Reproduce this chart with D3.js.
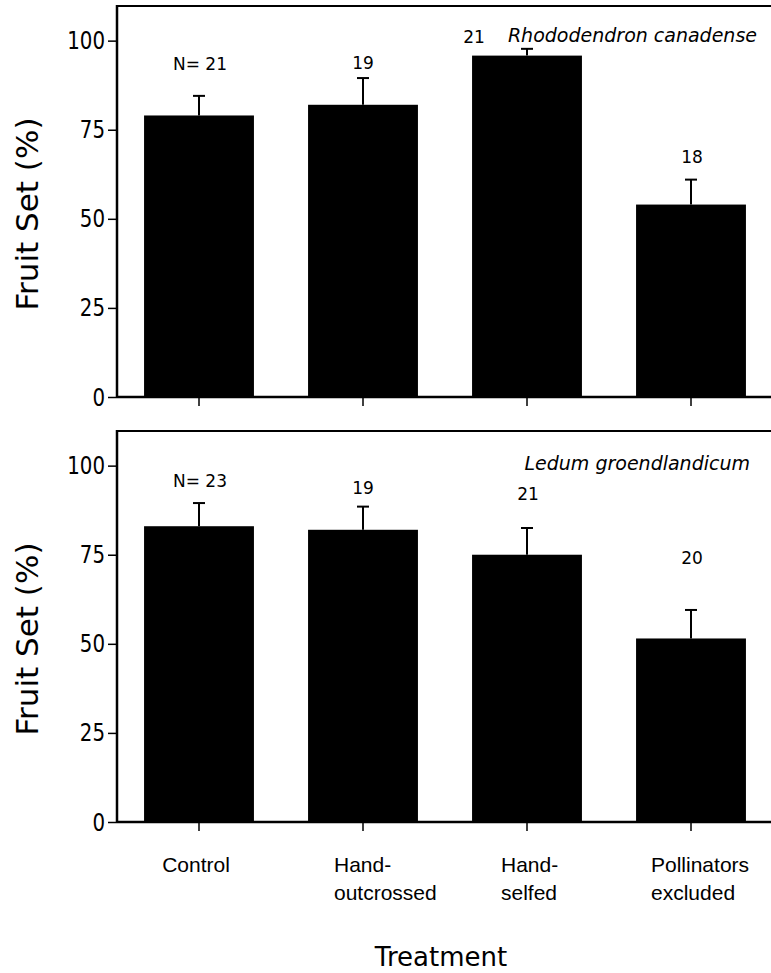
<!DOCTYPE html>
<html>
<head>
<meta charset="utf-8">
<script src="https://cdn.jsdelivr.net/npm/d3@7"></script>
<style>
  body { margin: 0; background: #fff; }
  svg { display: block; }
</style>
</head>
<body>
<div id="chart"></div>
<script>
// Treatments on the x axis
const treatments = ["Control", "Hand-outcrossed", "Hand-selfed", "Pollinators excluded"];
const treatmentLines = [["Control"], ["Hand-", "outcrossed"], ["Hand-", "selfed"], ["Pollinators", "excluded"]];
const yTicks = [0, 25, 50, 75, 100];

// Rhododendron canadense
const rhodoMean = [79, 82, 95.8, 54];
const rhodoUpper = [84.5, 89.5, 97.7, 61];
const rhodoN = ["N= 21", "19", "21", "18"];

// Ledum groendlandicum
const ledumMean = [83, 82, 75, 51.5];
const ledumUpper = [89.5, 88.5, 82.5, 59.5];
const ledumN = ["N= 23", "19", "21", "20"];

const W = 771, H = 973;
const svg = d3.select("#chart").append("svg")
  .attr("width", W).attr("height", H);

const x = d3.scaleBand()
  .domain(treatments)
  .range([117, 773])
  .paddingInner(0.33)
  .paddingOuter(0.165);

const tickFont = "'DejaVu Sans Condensed', 'DejaVu Sans', sans-serif";
const labelFont = "'DejaVu Sans', Verdana, sans-serif";

// panel layouts (pixel positions of frame + where the N labels sit)
const panels = [
  {
    species: "Rhododendron canadense", mean: rhodoMean, upper: rhodoUpper, n: rhodoN,
    top: 5, zero: 397, speciesX: 757, speciesY: 42,
    nPos: [[200, 70], [363, 69], [474, 43], [692, 163]]
  },
  {
    species: "Ledum groendlandicum", mean: ledumMean, upper: ledumUpper, n: ledumN,
    top: 430, zero: 822, speciesX: 750, speciesY: 470,
    nPos: [[200, 487], [363, 494], [528, 500], [692, 564]]
  }
];

panels.forEach(p => {
  const y = d3.scaleLinear().domain([0, 110]).range([p.zero, p.top]);
  const g = svg.append("g");

  // top frame line
  g.append("line")
    .attr("x1", 117).attr("x2", W)
    .attr("y1", p.top + 1).attr("y2", p.top + 1)
    .attr("stroke", "#000").attr("stroke-width", 2);

  // bars
  g.selectAll(".bar")
    .data(treatments)
    .enter().append("rect")
    .attr("x", d => x(d))
    .attr("width", x.bandwidth())
    .attr("y", (d, i) => y(p.mean[i]))
    .attr("height", (d, i) => y(0) - y(p.mean[i]))
    .attr("fill", "#000");

  // upper error bars
  const eb = g.selectAll(".err")
    .data(treatments)
    .enter().append("g")
    .attr("stroke", "#000").attr("stroke-width", 2);
  eb.append("line")
    .attr("x1", d => x(d) + x.bandwidth() / 2)
    .attr("x2", d => x(d) + x.bandwidth() / 2)
    .attr("y1", (d, i) => y(p.mean[i]))
    .attr("y2", (d, i) => y(p.upper[i]));
  eb.append("line")
    .attr("x1", d => x(d) + x.bandwidth() / 2 - 6)
    .attr("x2", d => x(d) + x.bandwidth() / 2 + 6)
    .attr("y1", (d, i) => y(p.upper[i]))
    .attr("y2", (d, i) => y(p.upper[i]));

  // y axis
  const yAxis = g.append("g")
    .attr("transform", "translate(117,0)")
    .call(d3.axisLeft(y).tickValues(yTicks).tickSize(9).tickPadding(3));
  yAxis.select(".domain").attr("d", `M0,${p.top}V${p.zero}`).attr("stroke-width", 2.5);
  yAxis.selectAll(".tick line").attr("stroke-width", 1.5);
  // digits in the original are tall and narrow
  yAxis.selectAll("text")
    .attr("x", -12 / 0.88)
    .attr("transform", "scale(0.88,1)")
    .style("font-family", tickFont).style("font-size", "25px").attr("fill", "#000");

  // x axis
  const xAxis = g.append("g")
    .attr("transform", `translate(0,${p.zero})`)
    .call(d3.axisBottom(x).tickSize(9).tickFormat(""));
  xAxis.select(".domain").attr("d", `M117,0H${W}`).attr("stroke-width", 2.5);
  xAxis.selectAll(".tick line").attr("stroke-width", 1.5);

  // N labels
  g.selectAll(".nlab")
    .data(p.n)
    .enter().append("text")
    .attr("x", (d, i) => p.nPos[i][0])
    .attr("y", (d, i) => p.nPos[i][1])
    .attr("text-anchor", "middle")
    .style("font-family", labelFont).style("font-size", "17px")
    .text(d => d);

  // species name
  g.append("text")
    .attr("x", p.speciesX).attr("y", p.speciesY)
    .attr("text-anchor", "end")
    .style("font-family", labelFont).style("font-size", "19px")
    .style("font-style", "italic")
    .text(p.species);

  // y label
  g.append("text")
    .attr("transform", `translate(38,${(p.top + p.zero) / 2 + 13}) rotate(-90)`)
    .attr("text-anchor", "middle")
    .style("font-family", labelFont).style("font-size", "31px")
    .text("Fruit Set (%)");
});

// category labels under the bottom panel
const labelShift = [0, -29, -26, -40];
const cat = svg.append("g")
  .style("font-family", "'Liberation Sans', Arial, sans-serif")
  .style("font-size", "21px");
treatmentLines.forEach((lines, i) => {
  const cx = x(treatments[i]) + x.bandwidth() / 2;
  const single = lines.length === 1;
  const lx = single ? cx - 3 : cx + labelShift[i];
  const t = cat.append("text")
    .attr("y", 872)
    .attr("text-anchor", single ? "middle" : "start");
  lines.forEach((l, j) => {
    t.append("tspan").attr("x", lx)
      .attr("dy", j === 0 ? 0 : 28).text(l);
  });
});

svg.append("text")
  .attr("x", 441).attr("y", 966)
  .attr("text-anchor", "middle")
  .style("font-family", labelFont).style("font-size", "26px")
  .text("Treatment");
</script>
</body>
</html>
